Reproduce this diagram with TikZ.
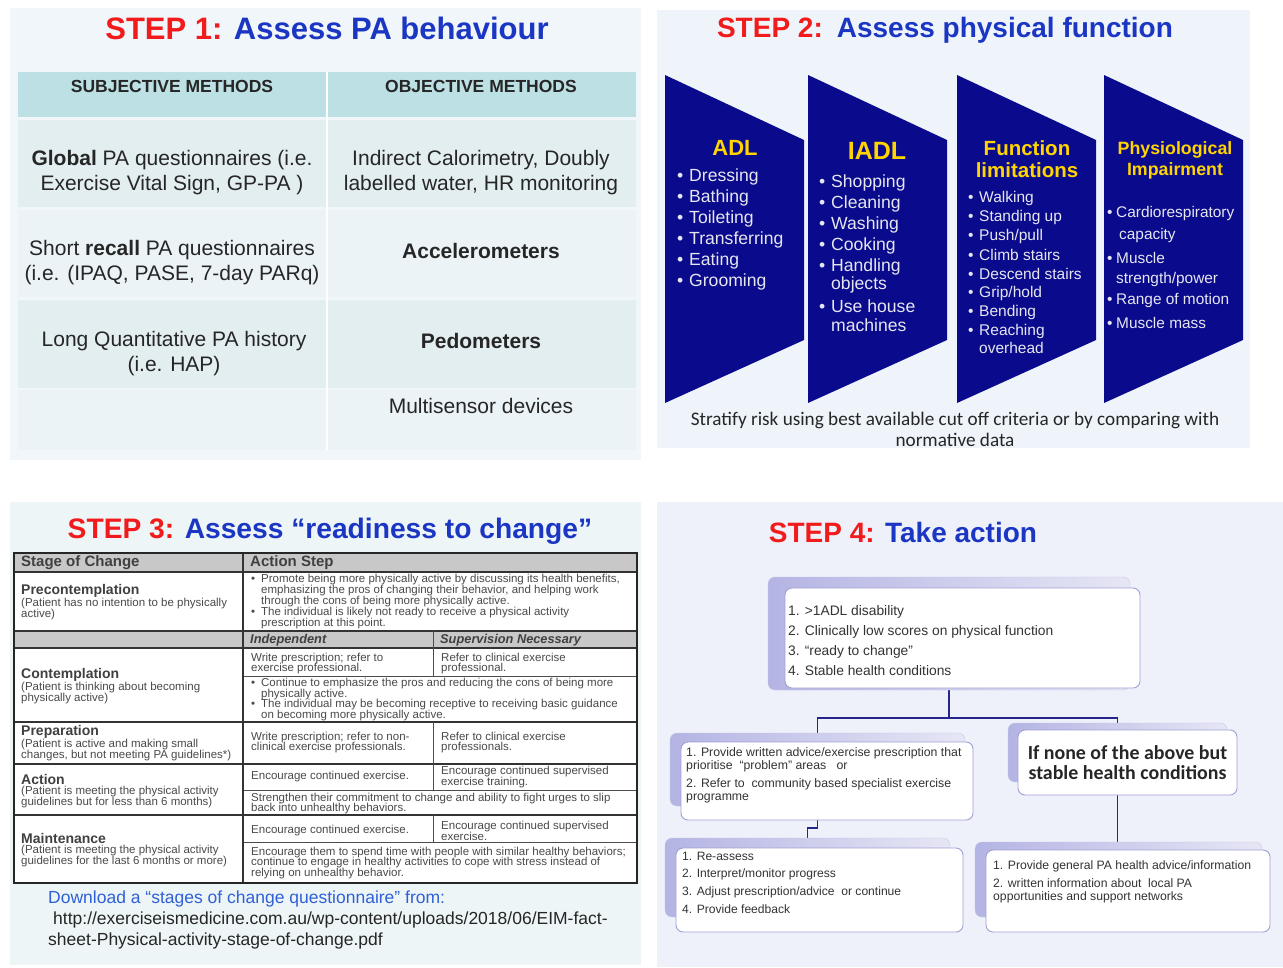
\documentclass[tikz,border=0pt]{standalone}
\usepackage{fontspec}
\setmainfont{Liberation Sans}
\newfontfamily\carlito{Carlito}
\usetikzlibrary{positioning,backgrounds}

\definecolor{stepred}{HTML}{F21B1B}
\definecolor{stepblue}{HTML}{1B36C2}
\definecolor{panelone}{HTML}{F0F6FA}
\definecolor{paneltwo}{HTML}{EEF4FA}
\definecolor{panelthree}{HTML}{EDF5F7}
\definecolor{panelfour}{HTML}{EEF1FA}
\definecolor{headteal}{HTML}{BDE0E4}
\definecolor{rowa}{HTML}{E3EEF1}
\definecolor{rowb}{HTML}{EBF3F6}
\definecolor{navy}{HTML}{0A0A8C}
\definecolor{gold}{HTML}{FFD400}
\definecolor{chevtext}{HTML}{E6E6F0}
\definecolor{tablegray}{HTML}{C8C8C8}
\definecolor{tabletext}{HTML}{4A4A4A}
\definecolor{linkblue}{HTML}{3060D8}
\definecolor{lavdark}{HTML}{B4B4E4}
\definecolor{lavlight}{HTML}{E6E6F5}
\definecolor{lavedge}{HTML}{A0A0D4}
\definecolor{connector}{HTML}{26268A}

\newcommand{\fsz}[2]{\fontsize{#1}{#2}\selectfont}
\newcommand{\bl}[1][12pt]{\makebox[#1][l]{\textbullet}}
\newcommand{\stg}[1]{{\fsz{14}{14}\bfseries\color{black!75}#1}}

\begin{document}
\begin{tikzpicture}[x=1pt,y=-1pt,
    every node/.style={inner sep=0pt},
    steptitle/.style={font=\fsz{31}{36}\bfseries},
    colhead/.style={font=\fsz{17.5}{20}\bfseries, text=black!85},
    cell/.style={align=center, text=black!85, font=\fsz{21}{25}},
    chevhead/.style={text=gold, align=center},
    chevitem/.style={anchor=west, text=chevtext},
    tabtxt/.style={anchor=west, align=left, text=tabletext, font=\fsz{11.5}{10.8}},
    tabrule/.style={line width=1.2pt, black!80},
    tabthin/.style={line width=0.8pt, black!70},
    shadowbox/.style={rectangle, rounded corners=7pt, draw=lavedge!60, left color=lavdark, right color=lavlight},
    frontbox/.style={rectangle, rounded corners=7pt, draw=lavedge, line width=0.9pt, fill=white},
    boxtxt/.style={anchor=west, align=left, text=black!80},
    link/.style={draw=connector, line width=1.8pt}]

    \useasboundingbox (0,0) rectangle (1283,967);

    % Panel backgrounds
    \begin{scope}[on background layer]
        \fill[panelone] (10,8) rectangle (641,460);
        \fill[paneltwo] (657,10) rectangle (1250,448);
        \fill[panelthree] (10,502) rectangle (641,965);
        \fill[panelfour] (657,502) rectangle (1283,967);
    \end{scope}

    %%% STEP 1
    \node[steptitle] (title1) at (327,28) {{\color{stepred}STEP 1:} {\color{stepblue}Assess PA behaviour}};

    % Table rows
    \fill[headteal] (18,72) rectangle (636,117);
    \fill[rowa] (18,120) rectangle (636,207);
    \fill[rowb] (18,210) rectangle (636,297);
    \fill[rowa] (18,300) rectangle (636,388);
    \fill[rowb] (18,390) rectangle (636,450);
    \draw[white, line width=1.5pt] (327,72) -- (327,450);

    \node[colhead] (subj) at (172,86) {SUBJECTIVE METHODS};
    \node[colhead] (obj) at (481,86) {OBJECTIVE METHODS};
    \node[cell] (global) at (172,173) {\textbf{Global} PA questionnaires (i.e.\\Exercise Vital Sign, GP-PA )};
    \node[cell] (calor) at (481,173) {Indirect Calorimetry, Doubly\\labelled water, HR monitoring};
    \node[cell] (recall) at (172,263) {Short \textbf{recall} PA questionnaires\\(i.e. (IPAQ, PASE, 7-day PARq)};
    \node[cell, font=\fsz{21}{25}\bfseries] (accel) at (481,251) {Accelerometers};
    \node[cell] (history) at (174,354) {Long Quantitative PA history\\(i.e. HAP)};
    \node[cell, font=\fsz{21}{25}\bfseries] (pedo) at (481,341) {Pedometers};
    \node[cell] (multi) at (481,406) {Multisensor devices};

    %%% STEP 2
    \node[steptitle, font=\fsz{28}{32}\bfseries] (title2) at (945,30) {{\color{stepred}STEP 2:}\hspace{0.5em}{\color{stepblue}Assess physical function}};

    % Draw the chevrons
    \foreach \xl in {665,808,957,1104}
        \fill[navy] (\xl,75) -- (\xl+139,140) -- (\xl+139,340) -- (\xl,403) -- cycle;

    \node[chevhead, font=\fsz{22}{24}\bfseries] (adl) at (735,148) {ADL};
    \node[chevhead, font=\fsz{25}{28}\bfseries] (iadl) at (877,151) {IADL};
    \node[chevhead, font=\fsz{20.5}{22}\bfseries] (funclim) at (1027,159) {Function\\limitations};
    \node[chevhead, font=\fsz{17.8}{21}\bfseries] (physimp) at (1175,160.5) {Physiological\\Impairment};

    \foreach \yy/\lbl in {177/Dressing,198/Bathing,219/Toileting,240/Transferring,261/Eating,282/Grooming}
        \node[chevitem, font=\fsz{17.6}{20}] at (677,\yy) {\bl\lbl};

    \foreach \yy/\lbl in {183/Shopping,204/Cleaning,225/Washing,246/Cooking,267/Handling,306/Use house}
        \node[chevitem, font=\fsz{17.6}{20}] at (819,\yy) {\bl\lbl};
    \node[chevitem, font=\fsz{17.6}{20}] at (831,285) {objects};
    \node[chevitem, font=\fsz{17.6}{20}] at (831,325) {machines};

    \foreach \yy/\lbl in {198/Walking,217/Standing up,236/{Push/pull},255/Climb stairs,274/Descend stairs,293/{Grip/hold},312/Bending,331/Reaching}
        \node[chevitem, font=\fsz{15.5}{18}] at (968,\yy) {\bl[11pt]\lbl};
    \node[chevitem, font=\fsz{15.5}{18}] at (979,348) {overhead};

    \foreach \yy/\lbl in {214/Cardiorespiratory,258/Muscle,301/Range of motion,323/Muscle mass}
        \node[chevitem, font=\fsz{15.4}{18}] at (1107,\yy) {\bl[9pt]\lbl};
    \node[chevitem, font=\fsz{15.4}{18}] at (1119,236) {capacity};
    \node[chevitem, font=\fsz{15.4}{18}] at (1116,280) {strength/power};

    \node[align=center, text=black!85, font=\carlito\fsz{19.2}{21}] (stratify) at (955,429)
        {Stratify risk using best available cut off criteria or by comparing with\\normative data};

    %%% STEP 3
    \node[steptitle, font=\fsz{28.2}{32}\bfseries] (title3) at (330,531) {{\color{stepred}STEP 3:} {\color{stepblue}Assess “readiness to change”}};

    % Stages of change table
    \fill[white] (14,553) rectangle (637,883);
    \fill[tablegray] (14,553) rectangle (637,572);
    \fill[tablegray] (14,631) rectangle (637,648);
    \foreach \yy in {572,631,648,722,764,815}
        \draw[tabrule] (14,\yy) -- (637,\yy);
    \foreach \yy in {676,790,842}
        \draw[tabthin] (243,\yy) -- (637,\yy);
    \draw[tabrule] (243,553) -- (243,883);
    \draw[tabthin] (433,631) -- (433,676);
    \draw[tabthin] (433,722) -- (433,790);
    \draw[tabthin] (433,815) -- (433,842);
    \draw[line width=1.6pt, black!85] (14,553) rectangle (637,883);

    \node[tabtxt, font=\fsz{15}{15}\bfseries, text=black!75] (stagehead) at (21,562.5) {Stage of Change};
    \node[tabtxt, font=\fsz{15}{15}\bfseries, text=black!75] (actionhead) at (250,562.5) {Action Step};
    \node[tabtxt, font=\fsz{12.8}{13}\bfseries\itshape, text=black!75] (indep) at (250,640) {Independent};
    \node[tabtxt, font=\fsz{12.8}{13}\bfseries\itshape, text=black!75] (superv) at (440,640) {Supervision Necessary};

    % Stage labels
    \node[tabtxt] (precon) at (21,602) {\stg{Precontemplation}\\(Patient has no intention to be physically\\active)};
    \node[tabtxt] (contem) at (21,686) {\stg{Contemplation}\\(Patient is thinking about becoming\\physically active)};
    \node[tabtxt] (prepar) at (21,743) {\stg{Preparation}\\(Patient is active and making small\\changes, but not meeting PA guidelines*)};
    \node[tabtxt] (action) at (21,791) {\stg{Action}\\(Patient is meeting the physical activity\\guidelines but for less than 6 months)};
    \node[tabtxt] (mainten) at (21,850) {\stg{Maintenance}\\(Patient is meeting the physical activity\\guidelines for the last 6 months or more)};

    % Action steps
    \node[tabtxt] (preconstep) at (251,601.5) {\bl[10pt]Promote being more physically active by discussing its health benefits,\\\hspace{10pt}emphasizing the pros of changing their behavior, and helping work\\\hspace{10pt}through the cons of being more physically active.\\\bl[10pt]The individual is likely not ready to receive a physical activity\\\hspace{10pt}prescription at this point.};
    \node[tabtxt] (contemind) at (251,663.5) {Write prescription; refer to\\exercise professional.};
    \node[tabtxt] (contemsup) at (441,663.5) {Refer to clinical exercise\\professional.};
    \node[tabtxt] (contemstep) at (251,699.5) {\bl[10pt]Continue to emphasize the pros and reducing the cons of being more\\\hspace{10pt}physically active.\\\bl[10pt]The individual may be becoming receptive to receiving basic guidance\\\hspace{10pt}on becoming more physically active.};
    \node[tabtxt] (preparind) at (251,742.5) {Write prescription; refer to non-\\clinical exercise professionals.};
    \node[tabtxt] (preparsup) at (441,742.5) {Refer to clinical exercise\\professionals.};
    \node[tabtxt] (actionind) at (251,777) {Encourage continued exercise.};
    \node[tabtxt] (actionsup) at (441,777) {Encourage continued supervised\\exercise training.};
    \node[tabtxt] (actionstep) at (251,803.5) {Strengthen their commitment to change and ability to fight urges to slip\\back into unhealthy behaviors.};
    \node[tabtxt] (maintind) at (251,831) {Encourage continued exercise.};
    \node[tabtxt] (maintsup) at (441,831) {Encourage continued supervised\\exercise.};
    \node[tabtxt] (maintstep) at (251,863) {Encourage them to spend time with people with similar healthy behaviors;\\continue to engage in healthy activities to cope with stress instead of\\relying on unhealthy behavior.};

    % Download note
    \node[anchor=west, text=linkblue, font=\fsz{17.5}{21}] (download) at (48,899) {Download a “stages of change questionnaire” from:};
    \node[anchor=west, text=black!85, font=\fsz{17.5}{21}] (url1) at (53,920) {http://exerciseismedicine.com.au/wp-content/uploads/2018/06/EIM-fact-};
    \node[anchor=west, text=black!85, font=\fsz{17.5}{21}] (url2) at (48,941) {sheet-Physical-activity-stage-of-change.pdf};

    %%% STEP 4
    \node[steptitle, font=\fsz{28}{32}\bfseries] (title4) at (903,532) {{\color{stepred}STEP 4:} {\color{stepblue}Take action}};

    % Shadow boxes
    \node[shadowbox, minimum width=362, minimum height=113] (boxAs) at (949,633.5) {};
    \node[shadowbox, minimum width=295, minimum height=73] (boxBs) at (817.5,769.5) {};
    \node[shadowbox, minimum width=219, minimum height=59] (boxCs) at (1117.5,752.5) {};
    \node[shadowbox, minimum width=285, minimum height=79] (boxDs) at (807.5,877.5) {};
    \node[shadowbox, minimum width=287, minimum height=75] (boxEs) at (1118.5,879.5) {};

    % Front boxes
    \node[frontbox, minimum width=355, minimum height=100] (boxA) at (962.5,638) {};
    \node[frontbox, minimum width=292, minimum height=78] (boxB) at (827,781) {};
    \node[frontbox, minimum width=219, minimum height=65] (boxC) at (1127.5,762.5) {};
    \node[frontbox, minimum width=287, minimum height=84] (boxD) at (819.5,890) {};
    \node[frontbox, minimum width=284, minimum height=82] (boxE) at (1128,891) {};

    % Connectors behind the boxes
    \begin{scope}[on background layer]
        \draw[link] (boxAs.south) -- ++(0,28) coordinate (fork) -| (boxBs.north);
        \draw[link] (fork) -| (boxCs.north);
        \draw[link] (boxBs.south) -- ++(0,22) -| (boxDs.north);
        \draw[link] (boxCs.south) -- (boxCs.south |- boxEs.north);
    \end{scope}

    % Box texts
    \node[boxtxt, font=\fsz{13.8}{20}] (critA) at (788,641) {1. >1ADL disability\\2. Clinically low scores on physical function\\3. “ready to change”\\4. Stable health conditions};
    \node[boxtxt, font=\fsz{12.3}{13.5}] (critB) at (686,775.5) {1. Provide written advice/exercise prescription that\\prioritise \ “problem” areas \ \ or\\[4pt]2. Refer to \ community based specialist exercise\\programme};
    \node[align=center, text=black!85, font=\carlito\fsz{19.9}{20}\bfseries] (critC) at (1127.5,763) {If none of the above but\\stable health conditions};
    \node[boxtxt, font=\fsz{12.1}{17.7}] (critD) at (682,882.5) {1. Re-assess\\2. Interpret/monitor progress\\3. Adjust prescription/advice \ or continue\\4. Provide feedback};
    \node[boxtxt, font=\fsz{12.2}{13}] (critE) at (993,881.5) {1. Provide general PA health advice/information\\[5pt]2. written information about \ local PA\\opportunities and support networks};
\end{tikzpicture}
\end{document}
